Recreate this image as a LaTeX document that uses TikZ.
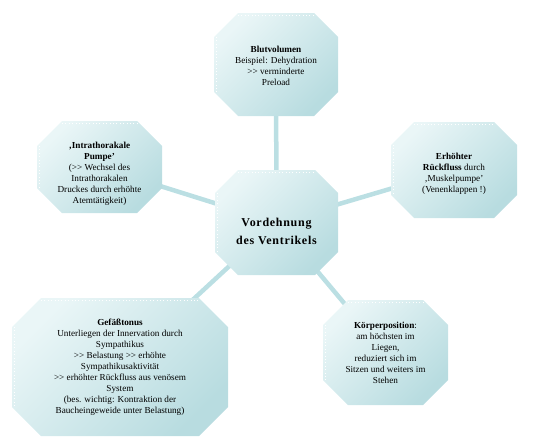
\documentclass[tikz,border=0pt]{standalone}
\usepackage{fontspec}
\setmainfont{Liberation Serif}[Ligatures=TeXOff]
\definecolor{boxlight}{HTML}{EAF6F7}
\definecolor{boxdark}{HTML}{B8DCE0}
\definecolor{linkblue}{HTML}{BBDFE3}
% octagon filled over the frame of a named box node
\newcommand{\octfill}[2]{%
  \shade[octshade] ([xshift=#2]#1.north west) -- ([xshift=-#2]#1.north east)
    -- ([yshift=-#2]#1.north east) -- ([yshift=#2]#1.south east)
    -- ([xshift=-#2]#1.south east) -- ([xshift=#2]#1.south west)
    -- ([yshift=#2]#1.south west) -- ([yshift=-#2]#1.north west) -- cycle;
  \draw[glint] ([shift={(#2,-2.5pt)}]#1.north west) -- ([shift={(-#2,-2.5pt)}]#1.north east);
  \draw[glint] ([shift={(2.5pt,-#2)}]#1.north west) -- ([shift={(2.5pt,#2)}]#1.south west);}

\begin{document}
\begin{tikzpicture}[x=1pt, y=-1pt,
  box/.style={inner sep=0pt, outer sep=0pt},
  octshade/.style={top color=boxlight, bottom color=boxdark, shading angle=45},
  glint/.style={white, line width=0.8pt, dash pattern=on 0.8pt off 2.6pt},
  boxtext/.style={align=center, inner sep=0pt, font=\fontsize{9.2}{11}\selectfont},
  titletext/.style={align=center, inner sep=0pt,
    font=\fontsize{12}{18}\selectfont\bfseries\addfontfeature{LetterSpace=6}},
  link/.style={draw=linkblue, line width=4.5pt}]
  \useasboundingbox (0,0) rectangle (553,447);
  % box frames
  \node[box, minimum width=124pt, minimum height=103pt] (blut) at (276,64.5) {};
  \node[box, minimum width=125pt, minimum height=92pt] (thorax) at (99.5,167) {};
  \node[box, minimum width=126pt, minimum height=96pt] (muskel) at (454,170) {};
  \node[box, minimum width=123pt, minimum height=105pt] (vent) at (276.5,222.5) {};
  \node[box, minimum width=216pt, minimum height=138pt] (gefaess) at (120,367) {};
  \node[box, minimum width=125pt, minimum height=105pt] (koerper) at (385.5,352.5) {};
  % connectors (covered by the boxes)
  \draw[link] (vent.center) -- (blut.center);
  \draw[link] (vent.center) -- (thorax.center);
  \draw[link] (vent.center) -- (muskel.center);
  \draw[link] (vent.center) -- (gefaess.center);
  \draw[link] (vent.center) -- (koerper.center);
  % octagons
  \octfill{blut}{24pt}
  \octfill{thorax}{25pt}
  \octfill{muskel}{23pt}
  \octfill{vent}{23pt}
  \octfill{gefaess}{29pt}
  \octfill{koerper}{25pt}
  % texts
  \node[titletext] (vent-t) at ([yshift=-9pt]vent.center) {Vordehnung\\des Ventrikels};
  \node[boxtext] (blut-t) at ([yshift=-1.5pt]blut.center)
    {\textbf{Blutvolumen}\\Beispiel: Dehydration\\>> verminderte\\Preload};
  \node[boxtext] (thorax-t) at ([yshift=-7pt]thorax.center)
    {\textbf{‚Intrathorakale}\\\textbf{Pumpe’}\\(>> Wechsel des\\Intrathorakalen\\Druckes durch erhöhte\\Atemtätigkeit)};
  \node[boxtext] (muskel-t) at ([yshift=-4pt]muskel.center)
    {\textbf{Erhöhter}\\\textbf{Rückfluss} durch\\‚Muskelpumpe’\\(Venenklappen !)};
  \node[boxtext] (gefaess-t) at (gefaess.center)
    {\textbf{Gefäßtonus}\\Unterliegen der Innervation durch\\Sympathikus\\>> Belastung >> erhöhte\\Sympathikusaktivität\\>> erhöhter Rückfluss aus venösem\\System\\(bes. wichtig: Kontraktion der\\Baucheingeweide unter Belastung)};
  \node[boxtext] (koerper-t) at (koerper.center)
    {\textbf{Körperposition}:\\am höchsten im\\Liegen,\\reduziert sich im\\Sitzen und weiters im\\Stehen};
\end{tikzpicture}
\end{document}
